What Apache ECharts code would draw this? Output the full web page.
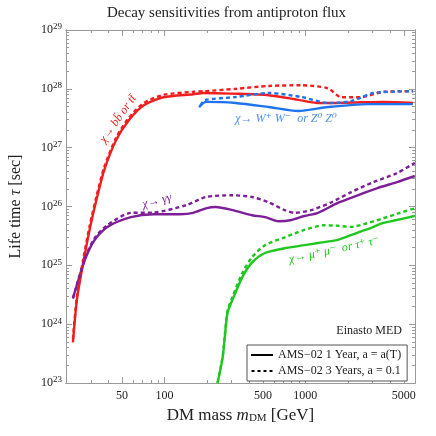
<!DOCTYPE html>
<html lang="en">
<head>
  <meta charset="UTF-8">
  <title>Decay sensitivities from antiproton flux</title>
  <script src="https://cdn.jsdelivr.net/npm/echarts@6/dist/echarts.min.js"></script>
  <style>
    html, body { margin: 0; padding: 0; background: #fff; }
    #main { width: 436px; height: 436px; }
  </style>
</head>
<body>
  <div id="main"></div>
  <script type="text/javascript">
    // axis ticks (GeV / log10 of sec)
    var xMajor = [50, 100, 500, 1000, 5000];
    var xMinor = [30, 40, 60, 70, 80, 90, 200, 300, 400, 600, 700, 800, 900, 2000, 3000, 4000];
    var yDecades = [23, 24, 25, 26, 27, 28, 29];

    // chi -> b bbar or t tbar
    var bbMass1 = [22.4, 23.9, 26.3, 29.4, 32.9, 37.4, 45.4, 56, 71.3, 98.4, 160, 190, 300, 550, 890, 1230, 1600, 2500, 3570, 5800];
    var bbTau1 = [4.9e23, 2.6e24, 1.0e25, 4.0e25, 1.3e26, 4.2e26, 1.35e27, 2.95e27, 5.25e27, 7.2e27, 8.1e27, 8.5e27, 8.3e27, 7.8e27, 6.5e27, 5.75e27, 5.75e27, 5.9e27, 6.0e27, 5.75e27];
    var bbMass3 = [22.4, 23.9, 26.3, 29.4, 32.9, 37.4, 45.4, 56, 71.3, 98.4, 160, 190, 320, 550, 940, 1450, 1790, 2470, 3570, 5800];
    var bbTau3 = [5.6e23, 2.95e24, 1.15e25, 4.6e25, 1.48e26, 4.7e26, 1.48e27, 3.24e27, 5.75e27, 7.9e27, 8.9e27, 9.1e27, 1.0e28, 1.12e28, 1.15e28, 1.02e28, 7.2e27, 7.2e27, 8.9e27, 9.1e27];

    // chi -> W+W- or Z0Z0
    var wwMass1 = [176, 197, 320, 550, 890, 1450, 2760, 5800];
    var wwTau1 = [4.9e27, 6.0e27, 5.75e27, 4.9e27, 4.2e27, 4.9e27, 5.5e27, 5.5e27];
    var wwMass3 = [180, 194, 320, 550, 940, 1450, 2100, 3040, 5800];
    var wwTau3 = [5.25e27, 6.45e27, 7.25e27, 8.5e27, 7.25e27, 5.75e27, 6.15e27, 8.5e27, 9.1e27];

    // chi -> gamma gamma
    var ggMass1 = [22.4, 27.2, 31.9, 39.3, 57.8, 83.8, 129, 160, 197, 231, 304, 419, 517, 647, 798, 984, 1230, 1700, 2350, 3240, 4470, 5980];
    var ggTau1 = [2.75e24, 1.23e25, 2.7e25, 4.5e25, 6.6e25, 7.4e25, 7.4e25, 7.8e25, 9.3e25, 9.8e25, 8.7e25, 7.1e25, 6.6e25, 5.6e25, 5.9e25, 6.9e25, 7.8e25, 1.15e26, 1.55e26, 2.05e26, 2.6e26, 3.3e26];
    var ggMass3 = [22.4, 27.2, 31.9, 39.3, 57.8, 83.8, 142, 197, 304, 419, 551, 713, 838, 1100, 1520, 2100, 3040, 4470, 5980];
    var ggTau3 = [2.75e24, 1.29e25, 2.9e25, 4.8e25, 7.8e25, 7.9e25, 1.05e26, 1.45e26, 1.55e26, 1.45e26, 1.17e26, 8.7e25, 7.8e25, 8.7e25, 1.17e26, 1.74e26, 2.6e26, 3.7e26, 5.5e26];

    // chi -> mu+mu- or tau+tau-
    var mmMass1 = [238, 259, 280, 304, 357, 419, 517, 713, 984, 1230, 1700, 2350, 2900, 3570, 4470, 5980];
    var mmTau1 = [1.0e23, 2.75e23, 1.55e24, 2.6e24, 6.3e24, 1.12e25, 1.62e25, 1.95e25, 2.2e25, 2.4e25, 2.7e25, 3.6e25, 4.3e25, 5.25e25, 5.9e25, 6.9e25];
    var mmMass3 = [238, 259, 280, 304, 357, 419, 517, 713, 984, 1360, 1700, 2100, 2590, 3570, 4690, 5980];
    var mmTau3 = [1.0e23, 2.9e23, 1.66e24, 2.9e24, 7.4e24, 1.38e25, 2.2e25, 3.0e25, 4.0e25, 4.8e25, 4.7e25, 4.5e25, 5.0e25, 6.3e25, 7.8e25, 9.3e25];

    var legendNames = ['AMS\u221202 1 Year, a = a(T)', 'AMS\u221202 3 Years, a = 0.1'];

    var serif = "'Liberation Serif', 'DejaVu Serif', serif";
    var frame = '#9a9a9a';
    var red = '#f01e1e', blue = '#1e74ee', purple = '#7e1f98', green = '#1ec81e';

    function lg(a) { return a.map(function (v) { return Math.log10(v); }); }
    function pts(m, t) {
      return m.map(function (v, i) { return [Math.log10(v), Math.log10(t[i])]; });
    }
    var yMinor = [];
    for (var d = 23; d < 29; d++) {
      for (var k = 2; k <= 9; k++) yMinor.push(d + Math.log10(k));
    }

    var xMin = Math.log10(20), xMax = Math.log10(6000);

    function xAx(pos, major) {
      return {
        type: 'value', position: pos, min: xMin, max: xMax,
        axisLine: { show: true, onZero: false, lineStyle: { color: frame, width: 1 } },
        axisTick: { show: true, inside: true, length: major ? 6 : 3, lineStyle: { color: frame },
                    customValues: major ? lg(xMajor) : lg(xMinor) },
        axisLabel: (pos === 'bottom' && major) ? {
          show: true, customValues: lg(xMajor), color: '#222', fontFamily: serif, fontSize: 12, margin: 7,
          formatter: function (v) { return String(Math.round(Math.pow(10, v))); }
        } : { show: false },
        splitLine: { show: false }
      };
    }
    function yAx(pos, major) {
      return {
        type: 'value', position: pos, min: 23, max: 29,
        axisLine: { show: true, onZero: false, lineStyle: { color: frame, width: 1 } },
        axisTick: { show: true, inside: true, length: major ? 6 : 3, lineStyle: { color: frame },
                    customValues: major ? yDecades : yMinor },
        axisLabel: (pos === 'left' && major) ? {
          show: true, customValues: yDecades, margin: 4,
          formatter: function (v) { return '{b|10}{s|' + Math.round(v) + '}'; },
          rich: {
            b: { fontFamily: serif, fontSize: 12, color: '#222' },
            s: { fontFamily: serif, fontSize: 9, color: '#222', verticalAlign: 'top', padding: [0, 0, 6, 0] }
          }
        } : { show: false },
        splitLine: { show: false }
      };
    }

    var xAxes = [xAx('bottom', true), xAx('bottom', false), xAx('top', true), xAx('top', false)];
    xAxes[0].name = '{n|DM mass }{i|m}{sub|DM}{n| [GeV]}';
    xAxes[0].nameLocation = 'middle';
    xAxes[0].nameGap = 22;
    xAxes[0].nameTextStyle = {
      rich: {
        n: { fontFamily: serif, fontSize: 17, color: '#222' },
        i: { fontFamily: serif, fontSize: 17, fontStyle: 'italic', color: '#222' },
        sub: { fontFamily: serif, fontSize: 11, color: '#222', verticalAlign: 'bottom', padding: [6, 0, 0, 0] }
      }
    };
    var yAxes = [yAx('left', true), yAx('left', false), yAx('right', true), yAx('right', false)];
    yAxes[0].name = '{n|Life time }{i|\u03c4}{n| [sec]}';
    yAxes[0].nameLocation = 'middle';
    yAxes[0].nameRotate = 90;
    yAxes[0].nameGap = 42;
    yAxes[0].nameTextStyle = {
      rich: {
        n: { fontFamily: serif, fontSize: 16, color: '#222' },
        i: { fontFamily: serif, fontSize: 16, fontStyle: 'italic', color: '#222' }
      }
    };

    function curve(m, t, color, dashed) {
      return {
        type: 'line', data: pts(m, t), xAxisIndex: 0, yAxisIndex: 0,
        showSymbol: false, symbol: 'none', smooth: 0.25, silent: true, clip: true,
        lineStyle: { color: color, width: 2.4, type: dashed ? [4, 3] : 'solid' },
        z: dashed ? 3 : 2
      };
    }

    function label(text, x, y, color, deg) {
      return {
        type: 'text', x: x, y: y, rotation: (deg || 0) * Math.PI / 180, z: 10,
        style: { text: text, fill: color, font: 'italic 12px ' + serif, align: 'center', verticalAlign: 'middle' }
      };
    }

    var chart = echarts.init(document.getElementById('main'), null, { renderer: 'canvas' });
    var option = {
      animation: false,
      backgroundColor: '#fff',
      title: {
        text: 'Decay sensitivities from antiproton flux',
        left: 102, top: 1,
        textStyle: { fontFamily: serif, fontSize: 15, fontWeight: 'normal', color: '#222' }
      },
      grid: { left: 62, right: 21, top: 30, bottom: 53, containLabel: false },
      xAxis: xAxes,
      yAxis: yAxes,
      legend: {
        data: [
          { name: legendNames[0], icon: 'path://M0,0h22v2H0z' },
          { name: legendNames[1], icon: 'path://M0,0h3v2H0zM6,0h3v2H6zM12,0h3v2H12zM18,0h3v2H18z' }
        ],
        orient: 'vertical', left: 247, top: 345,
        backgroundColor: '#fff', borderColor: '#555', borderWidth: 1,
        padding: [4, 6, 4, 4], itemGap: 4, itemWidth: 22, itemHeight: 2,
        selectedMode: false,
        textStyle: { fontFamily: serif, fontSize: 12, color: '#222', lineHeight: 12 }
      },
      series: [
        curve(bbMass1, bbTau1, red, false),
        curve(bbMass3, bbTau3, red, true),
        curve(wwMass1, wwTau1, blue, false),
        curve(wwMass3, wwTau3, blue, true),
        curve(ggMass1, ggTau1, purple, false),
        curve(ggMass3, ggTau3, purple, true),
        curve(mmMass1, mmTau1, green, false),
        curve(mmMass3, mmTau3, green, true),
        { name: legendNames[0], type: 'line', data: [], symbol: 'none', color: '#000',
          itemStyle: { color: '#000' }, lineStyle: { color: '#000', width: 1.6 } },
        { name: legendNames[1], type: 'line', data: [], symbol: 'none', color: '#000',
          itemStyle: { color: '#000' }, lineStyle: { color: '#000', width: 1.6, type: [3, 3] } }
      ],
      graphic: [
        label('\u03c7\u2192 bb\u0304 or tt\u0304', 118, 119, red, 55),
        label('\u03c7\u2192 W\u207a W\u207b  or Z\u2070 Z\u2070', 286, 119, '#4a8ff0', 0),
        label('\u03c7\u2192 \u03b3\u03b3', 157, 201, purple, 14),
        label('\u03c7\u2192 \u03bc\u207a \u03bc\u207b  or \u03c4\u207a \u03c4\u207b', 334, 250, green, 12),
        {
          type: 'text', right: 34, top: 325, z: 10,
          style: { text: 'Einasto MED', fill: '#222', font: '12px ' + serif }
        }
      ]
    };
    chart.setOption(option);
  </script>
</body>
</html>
